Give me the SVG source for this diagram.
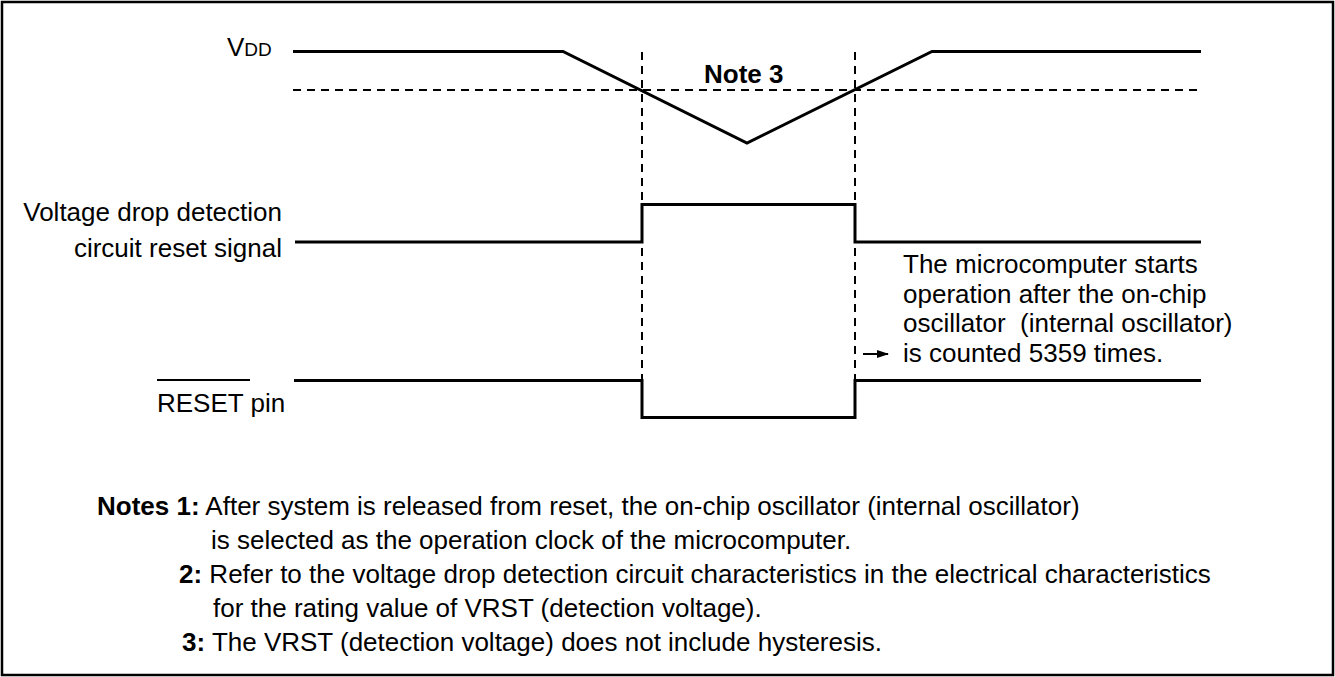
<svg xmlns="http://www.w3.org/2000/svg" width="1335" height="677" viewBox="0 0 1335 677">
<style>
text{font-family:"Liberation Sans",Arial,sans-serif;font-size:26px;fill:#000}
.b{font-weight:bold}
.sig{fill:none;stroke:#000;stroke-width:3;stroke-linejoin:miter}
.dash{fill:none;stroke:#000;stroke-width:2;stroke-dasharray:8 6}
.pre{white-space:pre}
</style>
<defs>
<marker id="ah" markerWidth="12" markerHeight="8" refX="11" refY="4" orient="auto" markerUnits="userSpaceOnUse">
<path d="M0,0 L12,4 L0,8 Z" fill="#000"/>
</marker>
</defs>
<rect x="2" y="2" width="1331" height="673" fill="#fff" stroke="#000" stroke-width="2.5"/>

<g id="vdd">
<text x="227" y="56">V<tspan font-size="19">DD</tspan></text>
<polyline class="sig" points="293,51.5 563,51.5 747,143 932,51.5 1201,51.5"/>
</g>

<g id="threshold">
<line class="dash" x1="293" y1="90" x2="1200" y2="90"/>
<text class="b" x="704" y="83">Note 3</text>
</g>

<g id="lvd-signal">
<text text-anchor="end" x="282" y="221">Voltage drop detection</text>
<text text-anchor="end" x="282" y="257">circuit reset signal</text>
<polyline class="sig" points="295,242 642,242 642,204.5 855,204.5 855,242 1201,242"/>
</g>

<g id="reset-pin">
<text x="157" y="412">RESET pin</text>
<line x1="157" y1="380" x2="250" y2="380" stroke="#000" stroke-width="2"/>
<polyline class="sig" points="294,380.5 642,380.5 642,417.5 855,417.5 855,380.5 1201,380.5"/>
</g>

<g id="description">
<text x="903" y="273">The microcomputer starts</text>
<text x="903" y="302.5">operation after the on-chip</text>
<text class="pre" x="903" y="332">oscillator  (internal oscillator)</text>
<text x="903" y="362">is counted 5359 times.</text>
</g>

<g id="connectors">
<line class="dash" x1="642" y1="52" x2="642" y2="380"/>
<line class="dash" x1="855" y1="52" x2="855" y2="380"/>
<line x1="863" y1="354" x2="888" y2="354" stroke="#000" stroke-width="2" marker-end="url(#ah)"/>
</g>

<g id="notes">
<text x="97" y="515"><tspan class="b">Notes 1:</tspan> After system is released from reset, the on-chip oscillator (internal oscillator)</text>
<text x="211" y="549">is selected as the operation clock of the microcomputer.</text>
<text x="179" y="583"><tspan class="b">2:</tspan> Refer to the voltage drop detection circuit characteristics in the electrical characteristics</text>
<text x="213" y="617">for the rating value of VRST (detection voltage).</text>
<text x="182" y="651"><tspan class="b">3:</tspan> The VRST (detection voltage) does not include hysteresis.</text>
</g>
</svg>
